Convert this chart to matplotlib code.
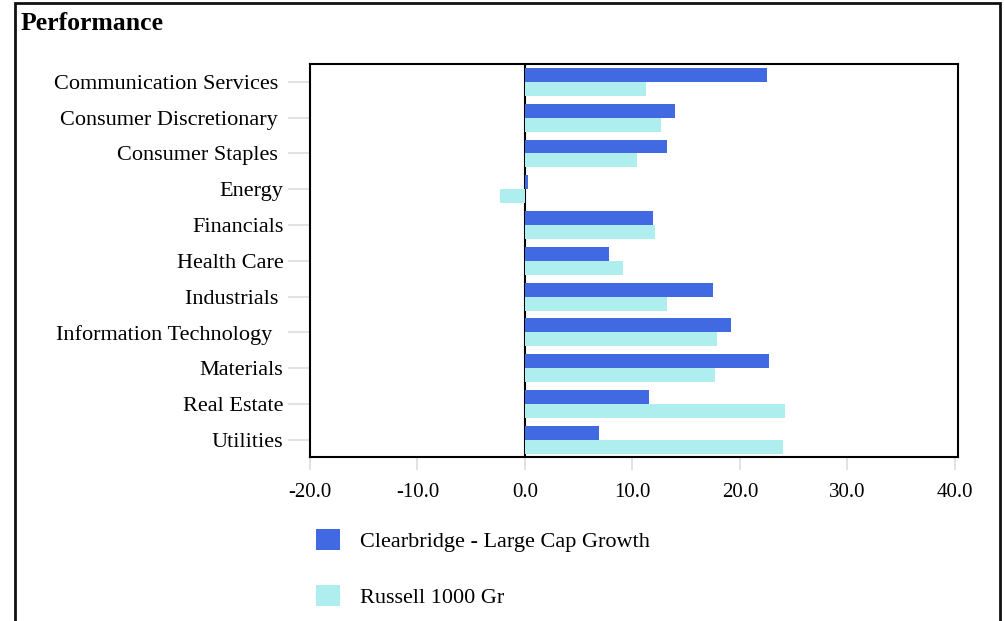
import matplotlib

matplotlib.use("Agg")
import matplotlib.pyplot as plt
import numpy as np
from matplotlib.patches import Rectangle

plt.rcParams["font.family"] = ["Liberation Serif", "DejaVu Serif"]

sectors = [
    "Communication Services ",
    "Consumer Discretionary ",
    "Consumer Staples ",
    "Energy",
    "Financials",
    "Health Care",
    "Industrials ",
    "Information Technology  ",
    "Materials",
    "Real Estate",
    "Utilities",
]
fund = [22.5, 14.0, 13.2, 0.3, 11.9, 7.8, 17.5, 19.2, 22.7, 11.5, 6.9]
bench = [11.3, 12.7, 10.4, -2.3, 12.1, 9.1, 13.2, 17.9, 17.7, 24.2, 24.0]
xticks = [-20, -10, 0, 10, 20, 30, 40]

W, H = 1005, 621
fig = plt.figure(figsize=(W / 100, H / 100), dpi=100)
fig.patch.set_facecolor("white")

# outer frame
fig.patches.append(
    Rectangle((15 / W, -0.01), 985 / W, (H - 3) / H + 0.01,
              transform=fig.transFigure, fill=False, edgecolor="#111111",
              linewidth=2.0)
)
fig.text(21 / W, 1 - 24 / H, "Performance", fontsize=18.5, fontweight="bold",
         va="center", ha="left")

ax = fig.add_axes([310 / W, 1 - 457 / H, 648 / W, 393 / H])
y = np.arange(len(sectors))
h = 0.39
ax.axvline(0, color="black", linewidth=1.5, zorder=1)
ax.barh(y - h / 2, fund, height=h, color="#4169E1", zorder=2,
        label="Clearbridge - Large Cap Growth")
ax.barh(y + h / 2, bench, height=h, color="#AFEEEE", zorder=2,
        label="Russell 1000 Gr")

ax.set_ylim(10.48, -0.5)
ax.set_xlim(-20, 40.3)
ax.set_yticks(y)
ax.set_yticklabels(sectors, fontsize=16)
ax.set_xticks(xticks)
ax.set_xticklabels([f"{v:.1f}" for v in xticks], fontsize=15)
ax.tick_params(axis="y", length=15.5, width=1.2, color="#dddddd", pad=3.5)
ax.tick_params(axis="x", length=9.5, width=1.2, color="#dddddd", pad=9)
for s in ax.spines.values():
    s.set_linewidth(1.5)
    s.set_color("black")

ax.legend(loc="upper left", bbox_to_anchor=(296 / W, 1 - 509 / H),
          bbox_transform=fig.transFigure, frameon=False, fontsize=16,
          handlelength=1.09, handleheight=1.09, labelspacing=1.48,
          handletextpad=0.9)

fig.savefig("out.png", dpi=100, facecolor="white")
